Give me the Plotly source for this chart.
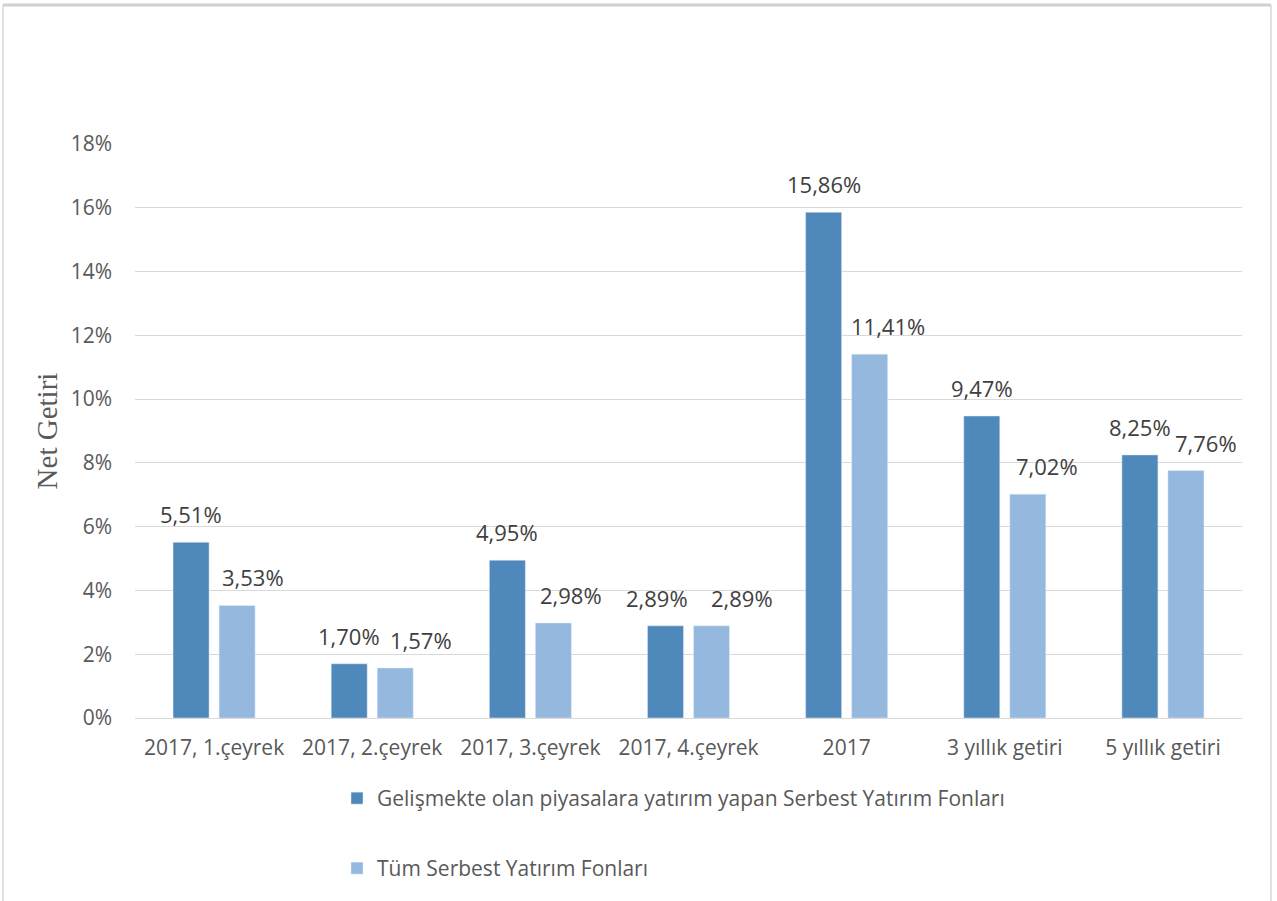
import plotly.graph_objects as go

categories = ["2017, 1.çeyrek", "2017, 2.çeyrek", "2017, 3.çeyrek", "2017, 4.çeyrek",
              "2017", "3 yıllık getiri", "5 yıllık getiri"]
series1_name = "Gelişmekte olan piyasalara yatırım yapan Serbest Yatırım Fonları"
series2_name = "Tüm Serbest Yatırım Fonları"
series1 = [5.51, 1.70, 4.95, 2.89, 15.86, 9.47, 8.25]
series2 = [3.53, 1.57, 2.98, 2.89, 11.41, 7.02, 7.76]
ytick_vals = [0, 2, 4, 6, 8, 10, 12, 14, 16, 18]

# label horizontal nudges (pixels), style only
label_dx1 = [0, 0, 0, -9, 0, 0, 0]
label_dx2 = [16, 26, 18, 31, 18, 19, 20]

C1 = "#4F88BB"
C2 = "#95B8DF"
FONT = "Open Sans"
FS = 21

fig = go.Figure()
fig.add_trace(go.Bar(x=categories, y=series1, name=series1_name, marker_color=C1,
                     legend="legend"))
fig.add_trace(go.Bar(x=categories, y=series2, name=series2_name, marker_color=C2,
                     legend="legend2"))

def fmt(v):
    return f"{v:.2f}".replace(".", ",") + "%"

annotations = []
off = 0.145
for i, (a, b) in enumerate(zip(series1, series2)):
    annotations.append(dict(x=i - off, y=a, xref="x", yref="y", text=fmt(a), showarrow=False,
                            yanchor="bottom", yshift=11, xshift=label_dx1[i],
                            font=dict(family=FONT, size=22, color="#404040")))
    annotations.append(dict(x=i + off, y=b, xref="x", yref="y", text=fmt(b), showarrow=False,
                            yanchor="bottom", yshift=11, xshift=label_dx2[i],
                            font=dict(family=FONT, size=22, color="#404040")))

L, R, T, B = 135, 35, 144, 183
W, H = 1277, 901
pw = W - L - R
ph = H - T - B
def px(xp):
    return (xp - L) / pw
def py(yp):
    return (H - B - yp) / ph

shapes = [
    dict(type="line", xref="paper", yref="paper", x0=px(3), x1=px(3), y0=py(5), y1=py(905),
         line=dict(color="#D9D9D9", width=1.5)),
    dict(type="line", xref="paper", yref="paper", x0=px(1271), x1=px(1271), y0=py(5), y1=py(905),
         line=dict(color="#D9D9D9", width=1.5)),
    dict(type="line", xref="paper", yref="paper", x0=px(3), x1=px(1271), y0=py(5), y1=py(5),
         line=dict(color="#D0D0D0", width=3)),
]

fig.update_layout(
    width=W, height=H,
    margin=dict(l=L, r=R, t=T, b=B, autoexpand=False),
    paper_bgcolor="white", plot_bgcolor="white",
    barmode="group", bargap=0.418, bargroupgap=0.217,
    showlegend=True,
    font=dict(family=FONT, size=FS, color="#595959"),
    xaxis=dict(type="category", showgrid=False, showline=True, linecolor="#D9D9D9", linewidth=1,
               ticks="", ticklabelstandoff=11,
               tickfont=dict(family=FONT, size=FS, color="#595959")),
    yaxis=dict(range=[0, 18], tickvals=ytick_vals, ticktext=[f"{v}%" for v in ytick_vals],
               showgrid=True, gridcolor="#D9D9D9", gridwidth=1, zeroline=False,
               showline=False, ticks="", ticklen=0, ticklabelstandoff=22,
               tickfont=dict(family=FONT, size=FS, color="#595959"),
               title=dict(text="Net Getiri", font=dict(family="Liberation Serif", size=29, color="#595959"),
                          standoff=4)),
    legend=dict(x=px(337), y=py(778), xanchor="left", yanchor="top", orientation="v",
                font=dict(family=FONT, size=FS, color="#595959"), bgcolor="rgba(0,0,0,0)",
                itemwidth=30),
    legend2=dict(x=px(337), y=py(848), xanchor="left", yanchor="top", orientation="v",
                 font=dict(family=FONT, size=FS, color="#595959"), bgcolor="rgba(0,0,0,0)",
                 itemwidth=30),
    annotations=annotations,
    shapes=shapes,
)

fig.write_html("out.html")
